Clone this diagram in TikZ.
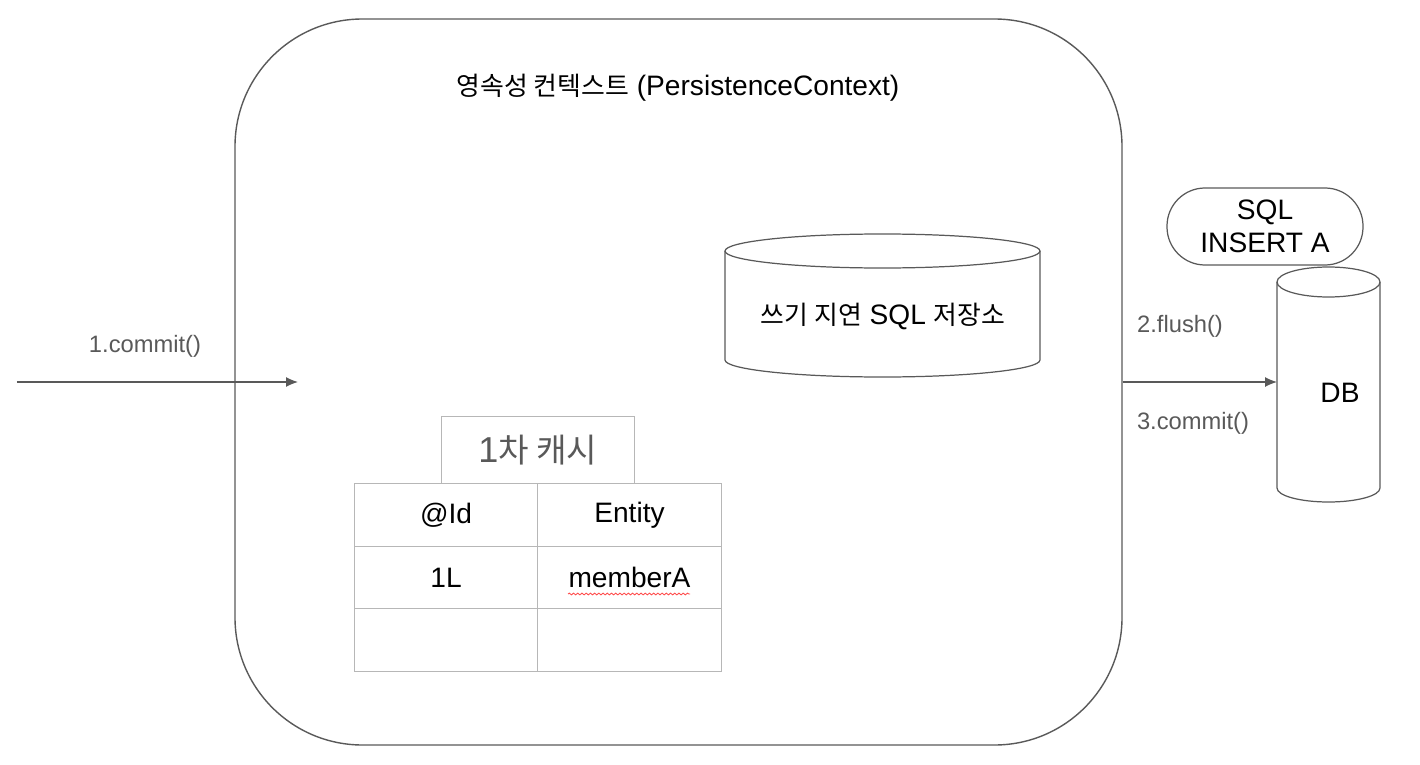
\documentclass[tikz,border=0pt]{standalone}
\usepackage{fontspec}
\setmainfont{Liberation Sans}
\newfontfamily\kr[Scale=0.92]{Noto Sans CJK KR}
\usepackage{tikz}
\usetikzlibrary{arrows.meta,positioning,decorations.pathmorphing}
\definecolor{linegray}{RGB}{89,89,89}
\definecolor{cellgray}{RGB}{183,183,183}
\definecolor{labelgray}{RGB}{89,89,89}

\begin{document}
\begin{tikzpicture}[
    font=\fontsize{16}{18.5}\selectfont,
    cell/.style={draw=cellgray, line width=0.7pt, rectangle, minimum width=3.67cm, minimum height=1.25cm, outer sep=0pt, inner sep=0pt},
    flow/.style={draw=linegray, line width=0.7pt, -{Latex[length=2.4mm,width=2mm]}},
    call/.style={text=labelgray, font=\fontsize{13.5}{16}\selectfont}
  ]
    \useasboundingbox (0,0) rectangle (28.4,-15.3);
    % Persistence context
    \node[draw=linegray, line width=0.8pt, rectangle, rounded corners=2.55cm, minimum width=17.74cm, minimum height=14.52cm] (ctx) at (13.57,-7.64) {};
    \node (ctxtitle) at (13.56,-1.76) {{\kr 영속성 컨텍스트} (PersistenceContext)};
    % Write-behind SQL store (cylinder)
    \draw[linegray, line width=0.7pt] (14.50,-5.02) -- (14.50,-7.20)
      arc[start angle=180, end angle=360, x radius=3.15cm, y radius=0.34cm] -- (20.80,-5.02);
    \draw[linegray, line width=0.7pt] (17.65,-5.02) ellipse [x radius=3.15cm, y radius=0.34cm];
    \node (store) at (17.66,-6.32) {{\kr 쓰기 지연} SQL {\kr 저장소}};
    % First-level cache table
    \node[cell] (idhead) at (8.92,-10.30) {@Id};
    \node[cell, right=0pt of idhead] (enthead) {Entity};
    \node[cell, below=0pt of idhead] (idval) {1L};
    \node[cell, below=0pt of enthead] (entval) {memberA};
    \node[cell, below=0pt of idval] (idnone) {};
    \node[cell, below=0pt of entval] (entnone) {};
    \node[cell, minimum width=3.86cm, minimum height=1.34cm, text=labelgray, font=\fontsize{20.5}{24}\selectfont, above=0pt of idhead.north east] (cache) {1{\kr 차 캐시}};
    \draw[red!70, line width=0.5pt, decorate, decoration={snake, amplitude=0.5pt, segment length=2.4pt}] (11.36,-11.88) -- (13.80,-11.88);
    % SQL statement and DB
    \node[draw=linegray, line width=0.7pt, rectangle, rounded corners=0.76cm, minimum width=3.92cm, minimum height=1.54cm, align=center] (sql) at (25.30,-4.53) {SQL\\INSERT A};
    \draw[linegray, line width=0.7pt] (25.54,-5.64) -- (25.54,-9.76)
      arc[start angle=180, end angle=360, x radius=1.03cm, y radius=0.28cm] -- (27.60,-5.64);
    \draw[linegray, line width=0.7pt] (26.57,-5.64) ellipse [x radius=1.03cm, y radius=0.30cm];
    \node[minimum width=2.06cm, minimum height=4.72cm, inner sep=0pt, outer sep=0pt] (db) at (26.57,-7.68) {};
    \node (dbtext) at (26.80,-7.86) {DB};
    % Calls
    \coordinate (caller) at (0.34,-7.64);
    \coordinate (entry) at (5.96,-7.64);
    \draw[flow] (caller) -- (entry);
    \node[call] (commitin) at (2.90,-6.92) {1.commit()};
    \draw[flow] (ctx.east) -- (ctx.east -| db.west);
    \node[call] (flush) at (23.60,-6.52) {2.flush()};
    \node[call] (commitout) at (23.86,-8.46) {3.commit()};
  \end{tikzpicture}
\end{document}
